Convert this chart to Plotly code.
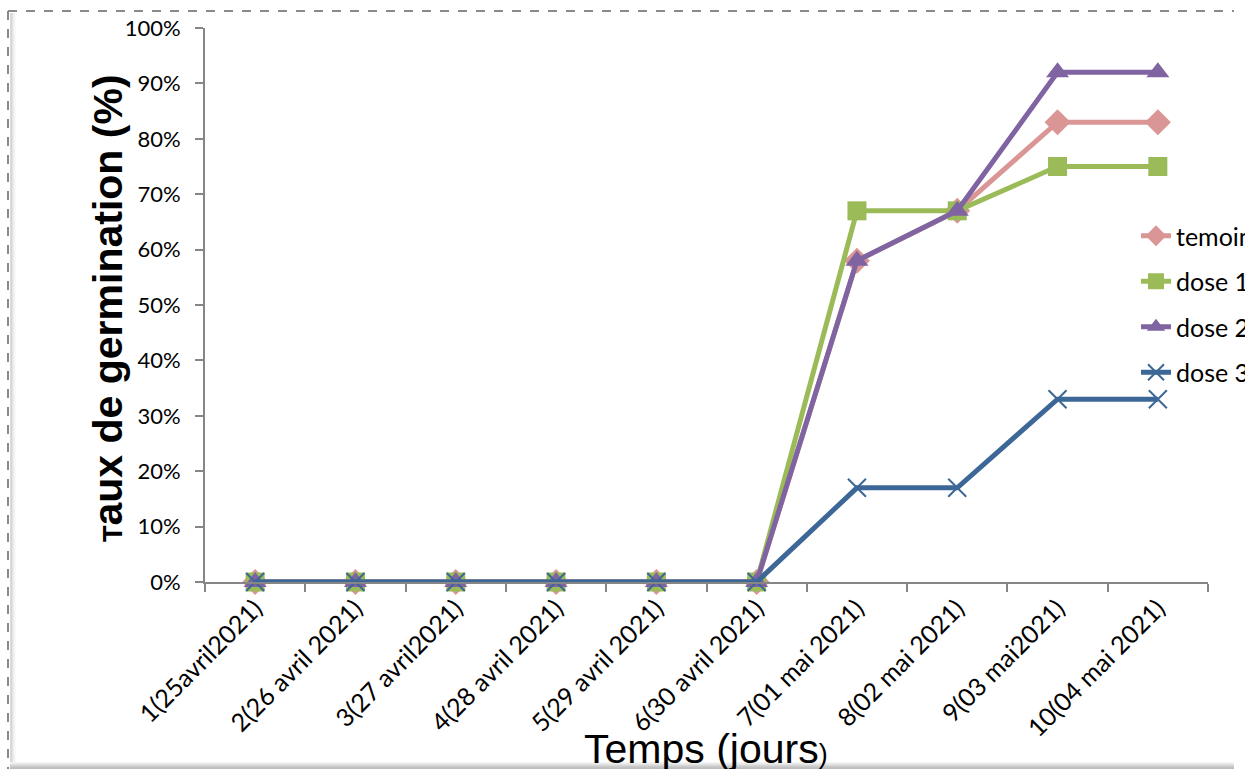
import plotly.graph_objects as go

# Days of observation (category labels)
jours = [
    "1(25avril2021)", "2(26 avril 2021)", "3(27 avril2021)", "4(28 avril 2021)",
    "5(29 avril 2021)", "6(30 avril 2021)", "7(01 mai 2021)", "8(02 mai 2021)",
    "9(03 mai2021)", "10(04 mai 2021)",
]

# Germination rate (%) per treatment
temoin = [0, 0, 0, 0, 0, 0, 58, 67, 83, 83]
dose1 = [0, 0, 0, 0, 0, 0, 67, 67, 75, 75]
dose2 = [0, 0, 0, 0, 0, 0, 58, 67, 92, 92]
dose3 = [0, 0, 0, 0, 0, 0, 17, 17, 33, 33]

y_ticks = list(range(0, 101, 10))
y_labels = [f"{v}%" for v in y_ticks]

series = [
    ("temoin", temoin, "#D99694", dict(symbol="diamond", size=20)),
    ("dose 1", dose1, "#9BBB59", dict(symbol="square", size=19)),
    ("dose 2", dose2, "#8064A2", dict(symbol="triangle-up", size=20)),
    ("dose 3", dose3, "#3C6796", dict(symbol="x-thin", size=18, line=dict(width=2, color="#3C6796"))),
]

fig = go.Figure()
for i, (name, vals, color, mk) in enumerate(series):
    fig.add_trace(go.Scatter(
        x=jours, y=vals, name=name, mode="lines+markers",
        line=dict(color=color, width=5),
        marker=dict(color=color, **mk),
        cliponaxis=False, legendgroup=str(i),
    ))

W, H = 1245, 769
L, R, T, B = 205, 37, 28, 187
pw, ph = W - L - R, H - T - B


def px(x):
    return (x - L) / pw


def py(y):
    return (H - B - y) / ph


axis_col = "#868686"
shapes = [
    # dashed frame border (top and left)
    dict(type="line", xref="paper", yref="paper", x0=px(8), x1=px(1234), y0=py(11), y1=py(11),
         line=dict(color="#8a8a8a", width=2, dash="dash")),
    dict(type="line", xref="paper", yref="paper", x0=px(8), x1=px(8), y0=py(11), y1=py(769),
         line=dict(color="#8a8a8a", width=2, dash="dash")),
]
# soft inner shadow along left edge
for k, c in enumerate(["#b8b8b8", "#cfcfcf", "#e0e0e0", "#ececec", "#f5f5f5"]):
    shapes.append(dict(type="line", xref="paper", yref="paper",
                       x0=px(11 + k), x1=px(11 + k), y0=py(13), y1=py(762),
                       line=dict(color=c, width=1)))
# shadow band along the bottom edge
for k, c in enumerate(["#f4f4f4", "#ececec", "#e2e2e2", "#d6d6d6", "#cbcbcb", "#c2c2c2", "#bcbcbc"]):
    shapes.append(dict(type="line", xref="paper", yref="paper",
                       x0=px(10), x1=px(1234), y0=py(762.5 + k), y1=py(762.5 + k),
                       line=dict(color=c, width=1)))

annotations = [
    dict(text="<b><span style='font-size:27px'>T</span>aux de germination (%)</b>",
         xref="paper", yref="paper", x=px(108), y=py(308), textangle=-90,
         xanchor="center", yanchor="middle",
         showarrow=False, font=dict(family="Liberation Sans, Arial", size=41, color="black")),
    dict(text="Temps (jours<span style='font-size:27px'>)</span>",
         xref="paper", yref="paper", x=px(706), y=py(749),
         xanchor="center", yanchor="middle",
         showarrow=False, font=dict(family="Liberation Sans, Arial", size=41, color="black")),
]

fig.update_layout(
    width=W, height=H,
    margin=dict(l=L, r=R, t=T, b=B, autoexpand=False),
    paper_bgcolor="white", plot_bgcolor="white",
    font=dict(family="Lato, Open Sans, sans-serif", color="black"),
    showlegend=True,
    legend=dict(x=px(1136), y=py(213), xanchor="left", yanchor="top",
                font=dict(size=25, color="black"), tracegroupgap=10,
                bgcolor="rgba(0,0,0,0)"),
    xaxis=dict(type="category", range=[-0.5, 9.5], tickson="boundaries",
               ticks="outside", ticklen=8, tickcolor=axis_col, tickwidth=2,
               showline=True, linecolor=axis_col, linewidth=2, showgrid=False,
               tickangle=-45, tickfont=dict(size=25), zeroline=False),
    yaxis=dict(range=[0, 100], tickvals=y_ticks, ticktext=y_labels,
               ticks="outside", ticklen=8, tickcolor=axis_col, tickwidth=2,
               showline=True, linecolor=axis_col, linewidth=2, showgrid=False,
               zeroline=False, tickfont=dict(size=22), ticklabelstandoff=10),
    shapes=shapes, annotations=annotations,
)

fig.write_html("out.html")
